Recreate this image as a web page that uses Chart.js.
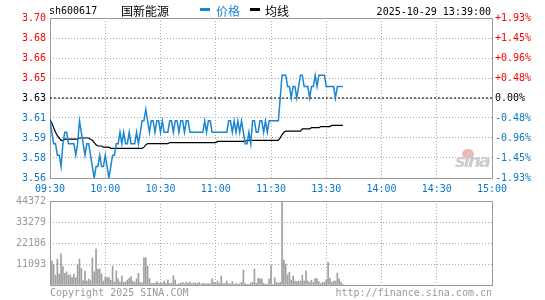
<!DOCTYPE html>
<html>
<head>
<meta charset="utf-8">
<script src="https://cdn.jsdelivr.net/npm/chart.js@4.4.0/dist/chart.umd.min.js"></script>
<style>
  body { margin: 0; background: #fff; }
  #wrap { position: relative; width: 545px; height: 300px; overflow: hidden; font-family: "DejaVu Sans Mono", monospace; font-size: 10px; }
  #priceChart { position: absolute; left: 0; top: 0; }
  #volChart { position: absolute; left: 0; top: 190px; }
  .txt { position: absolute; white-space: nowrap; line-height: 12px; }
  .cjk { font-family: "Noto Sans CJK SC", sans-serif; font-size: 12px; line-height: 14px; }
  .mark { position: absolute; width: 10px; height: 3px; }
</style>
</head>
<body>
<div id="wrap">
  <canvas id="priceChart" width="545" height="200"></canvas>
  <canvas id="volChart" width="545" height="110"></canvas>

  <div class="txt" style="left:49px; top:5px; color:#000;">sh600617</div>
  <div class="txt cjk" style="left:121px; top:4px; color:#000;">国新能源</div>
  <div class="mark" style="left:200px; top:8px; background:#1a86d0;"></div>
  <div class="txt cjk" style="left:216px; top:4px; color:#1a86d0;">价格</div>
  <div class="mark" style="left:250px; top:8px; background:#000;"></div>
  <div class="txt cjk" style="left:265px; top:4px; color:#000;">均线</div>
  <div class="txt" style="right:54px; top:6px; color:#000;">2025-10-29 13:39:00</div>

  <div style="position:absolute; left:462px; top:149px; width:12px; height:10px; border-radius:50%; background:#f0b4b4;"></div>
  <div class="txt" style="left:455px; top:151px; font-family:'DejaVu Sans', sans-serif; font-weight:bold; font-style:italic; font-size:18px; line-height:20px; letter-spacing:-2px; color:#cdcdcd;">sina</div>

  <div class="txt" style="left:50px; top:287px; color:#999;">Copyright 2025 SINA.COM</div>
  <div class="txt" style="right:53px; top:287px; color:#999;">http://finance.sina.com.cn</div>
</div>

<script>
// ---- data (minute index 0 = 09:30, 120 = 11:30, 121 = 13:01 ...) ----
const prevClose = 3.63;
const priceMin = 3.56;
const priceMax = 3.70;

const timeLabels = ["09:30", "10:00", "10:30", "11:00", "11:30", "13:30", "14:00", "14:30", "15:00"];
const timeTicks = [0, 30, 60, 90, 120, 150, 180, 210, 240];

const priceTickLabels = ["3.56", "3.58", "3.59", "3.61", "3.63", "3.65", "3.66", "3.68", "3.70"];
const pctTickLabels = ["-1.93%", "-1.45%", "-0.96%", "-0.48%", "0.00%", "+0.48%", "+0.96%", "+1.45%", "+1.93%"];

const volTicks = [0, 11093, 22186, 33279, 44372];
const volTickLabels = ["", "11093", "22186", "33279", "44372"];

const price = [
  3.61, 3.60, 3.59, 3.59, 3.58, 3.58, 3.57, 3.59, 3.60, 3.60,
  3.59, 3.59, 3.59, 3.59, 3.58, 3.59, 3.61, 3.60, 3.59, 3.58,
  3.59, 3.59, 3.58, 3.57, 3.56, 3.57, 3.57, 3.58, 3.57, 3.57,
  3.58, 3.57, 3.56, 3.57, 3.58, 3.58, 3.59, 3.59, 3.60, 3.59,
  3.60, 3.59, 3.59, 3.60, 3.59, 3.59, 3.59, 3.60, 3.59, 3.60,
  3.61, 3.61, 3.62, 3.61, 3.60, 3.61, 3.61, 3.60, 3.61, 3.61,
  3.60, 3.61, 3.60, 3.60, 3.60, 3.61, 3.61, 3.60, 3.61, 3.61,
  3.60, 3.61, 3.61, 3.60, 3.61, 3.61, 3.60, 3.60, 3.60, 3.60,
  3.60, 3.60, 3.60, 3.60, 3.61, 3.60, 3.61, 3.61, 3.60, 3.60,
  3.60, 3.60, 3.60, 3.60, 3.60, 3.60, 3.60, 3.61, 3.61, 3.60,
  3.61, 3.60, 3.61, 3.60, 3.61, 3.60, 3.59, 3.59, 3.60, 3.59,
  3.61, 3.61, 3.60, 3.60, 3.61, 3.61, 3.60, 3.61, 3.60, 3.61,
  3.61, 3.61, 3.61, 3.61, 3.61, 3.63, 3.65, 3.65, 3.65, 3.64,
  3.64, 3.63, 3.64, 3.64, 3.63, 3.64, 3.65, 3.65, 3.64, 3.64,
  3.64, 3.63, 3.64, 3.64, 3.65, 3.64, 3.65, 3.65, 3.65, 3.65,
  3.64, 3.64, 3.64, 3.64, 3.64, 3.63, 3.64, 3.64, 3.64, 3.64
];

const avgPrice = [
  3.611, 3.608, 3.604, 3.600, 3.597, 3.595, 3.593, 3.593, 3.594, 3.594,
  3.594, 3.594, 3.594, 3.594, 3.594, 3.594, 3.595, 3.595, 3.595, 3.595,
  3.595, 3.595, 3.594, 3.593, 3.591, 3.589, 3.588, 3.588, 3.588, 3.587,
  3.587, 3.587, 3.587, 3.586, 3.586, 3.586, 3.586, 3.586, 3.586, 3.586,
  3.586, 3.586, 3.586, 3.586, 3.586, 3.586, 3.586, 3.586, 3.586, 3.586,
  3.586, 3.587, 3.589, 3.590, 3.590, 3.590, 3.590, 3.590, 3.590, 3.590,
  3.590, 3.590, 3.590, 3.590, 3.590, 3.591, 3.591, 3.591, 3.591, 3.591,
  3.591, 3.591, 3.591, 3.591, 3.591, 3.591, 3.591, 3.591, 3.591, 3.591,
  3.591, 3.591, 3.591, 3.591, 3.591, 3.591, 3.591, 3.591, 3.591, 3.591,
  3.591, 3.592, 3.592, 3.592, 3.592, 3.592, 3.592, 3.592, 3.592, 3.592,
  3.592, 3.592, 3.592, 3.592, 3.592, 3.592, 3.592, 3.593, 3.593, 3.593,
  3.593, 3.593, 3.593, 3.593, 3.593, 3.593, 3.593, 3.593, 3.593, 3.593,
  3.593, 3.593, 3.593, 3.593, 3.593, 3.595, 3.598, 3.600, 3.601, 3.601,
  3.601, 3.601, 3.601, 3.601, 3.601, 3.601, 3.601, 3.603, 3.603, 3.603,
  3.603, 3.603, 3.604, 3.604, 3.604, 3.604, 3.604, 3.605, 3.605, 3.605,
  3.605, 3.605, 3.605, 3.606, 3.606, 3.606, 3.606, 3.606, 3.606, 3.606
];

const volume = [
  4700, 12700, 10900, 5300, 13700, 5800, 16400, 9700, 6200, 7000,
  5300, 5300, 3900, 5800, 3900, 10900, 13700, 8800, 2300, 7400,
  2100, 3200, 2300, 14300, 7000, 19000, 8450, 8450, 5800, 2100,
  4050, 3900, 3900, 2600, 10000, 1600, 7400, 3200, 1600, 4750,
  1400, 1600, 2600, 3500, 4400, 2100, 1400, 3200, 6200, 1400,
  1200, 14400, 14400, 10000, 3500, 900, 900, 900, 1800, 900,
  1400, 900, 2100, 900, 2600, 900, 900, 4900, 2600, 400,
  700, 900, 1400, 700, 1400, 900, 1600, 700, 1100, 1000,
  900, 1400, 500, 900, 700, 700, 700, 700, 3200, 1400,
  900, 2100, 900, 4750, 700, 900, 2100, 700, 700, 1800,
  400, 900, 400, 700, 1400, 7900, 700, 400, 400, 900,
  1400, 8450, 900, 3500, 3200, 3200, 900, 400, 400, 3200,
  10200, 400, 3900, 1400, 900, 1400, 44372, 13200, 11100, 5300,
  6700, 2600, 4750, 2100, 1800, 2100, 2100, 5300, 2100, 7400,
  2100, 1400, 2600, 1400, 3500, 3200, 1800, 700, 1400, 1400,
  2600, 12000, 3500, 1400, 2100, 2100, 6300, 3200, 1400, 400
];

// ---- styles ----
const LINE_BLUE = "#1a86d0";
const LABEL_BLUE = "#0a78c8";
const RED = "#ff0000";
const GRID = "#aaaaaa";
const FRAME = "#999999";

Chart.defaults.font.family = "'DejaVu Sans Mono', monospace";
Chart.defaults.font.size = 10;

const frame = {
  id: "frame",
  beforeDatasetsDraw(chart) {
    const a = chart.chartArea;
    const c = chart.ctx;
    c.save();
    c.strokeStyle = FRAME;
    c.lineWidth = 1;
    c.strokeRect(Math.round(a.left) + 0.5, Math.round(a.top) + 0.5,
      Math.round(a.right - a.left), Math.round(a.bottom - a.top));
    c.restore();
  }
};

const priceTickColor = c => c.index > 4 ? RED : (c.index === 4 ? "#000" : LABEL_BLUE);
const priceStep = (priceMax - priceMin) / (priceTickLabels.length - 1);

const xScale = (showLabels) => ({
  type: "linear",
  min: 0,
  max: 240,
  offset: false,
  afterBuildTicks: s => { s.ticks = timeTicks.map(v => ({ value: v })); },
  afterFit: s => { s.height = showLabels ? 22 : 0; },
  ticks: {
    display: showLabels,
    autoSkip: false,
    maxRotation: 0,
    padding: 5,
    color: LABEL_BLUE,
    callback: (v, i) => timeLabels[i]
  },
  grid: { color: GRID, drawTicks: false, offset: false },
  border: { display: false, dash: [1, 2] }
});

new Chart(document.getElementById("priceChart"), {
  type: "line",
  data: {
    datasets: [
      {
        label: "价格",
        data: price.map((v, i) => ({ x: i, y: v })),
        borderColor: LINE_BLUE,
        borderWidth: 1.5,
        pointRadius: 0,
        tension: 0
      },
      {
        label: "均线",
        data: avgPrice.map((v, i) => ({ x: i, y: v })),
        borderColor: "#000",
        borderWidth: 1.2,
        pointRadius: 0,
        tension: 0
      },
      {
        label: "昨收",
        data: [{ x: 0, y: prevClose }, { x: 240, y: prevClose }],
        borderColor: "#000",
        borderWidth: 1,
        borderDash: [2, 2],
        pointRadius: 0
      }
    ]
  },
  options: {
    responsive: false,
    animation: false,
    layout: { padding: { top: 18 } },
    plugins: { legend: { display: false }, tooltip: { enabled: false } },
    scales: {
      x: xScale(true),
      y: {
        min: priceMin,
        max: priceMax,
        position: "left",
        afterBuildTicks: s => { s.ticks = priceTickLabels.map((t, i) => ({ value: priceMin + i * priceStep })); },
        afterFit: s => { s.width = 50; },
        ticks: { padding: 4, color: priceTickColor, callback: (v, i) => priceTickLabels[i] },
        grid: { color: GRID, drawTicks: false },
        border: { display: false, dash: [1, 2] }
      },
      y2: {
        min: priceMin,
        max: priceMax,
        position: "right",
        afterBuildTicks: s => { s.ticks = pctTickLabels.map((t, i) => ({ value: priceMin + i * priceStep })); },
        afterFit: s => { s.width = 53; },
        ticks: { padding: 3, color: priceTickColor, callback: (v, i) => pctTickLabels[i] },
        grid: { display: false, drawTicks: false },
        border: { display: false }
      }
    }
  },
  plugins: [frame]
});

new Chart(document.getElementById("volChart"), {
  type: "bar",
  data: {
    datasets: [{
      label: "成交量",
      data: volume.map((v, i) => ({ x: i, y: v })),
      backgroundColor: "#a0a0a0",
      barThickness: 1
    }]
  },
  options: {
    responsive: false,
    animation: false,
    layout: { padding: { top: 11, bottom: 15, right: 53 } },
    plugins: { legend: { display: false }, tooltip: { enabled: false } },
    scales: {
      x: xScale(false),
      y: {
        min: 0,
        max: volTicks[volTicks.length - 1],
        afterBuildTicks: s => { s.ticks = volTicks.map(v => ({ value: v })); },
        afterFit: s => { s.width = 50; },
        ticks: { padding: 4, color: "#999", callback: (v, i) => volTickLabels[i] },
        grid: { color: GRID, drawTicks: false },
        border: { display: false, dash: [1, 2] }
      }
    }
  },
  plugins: [frame]
});
</script>
</body>
</html>
